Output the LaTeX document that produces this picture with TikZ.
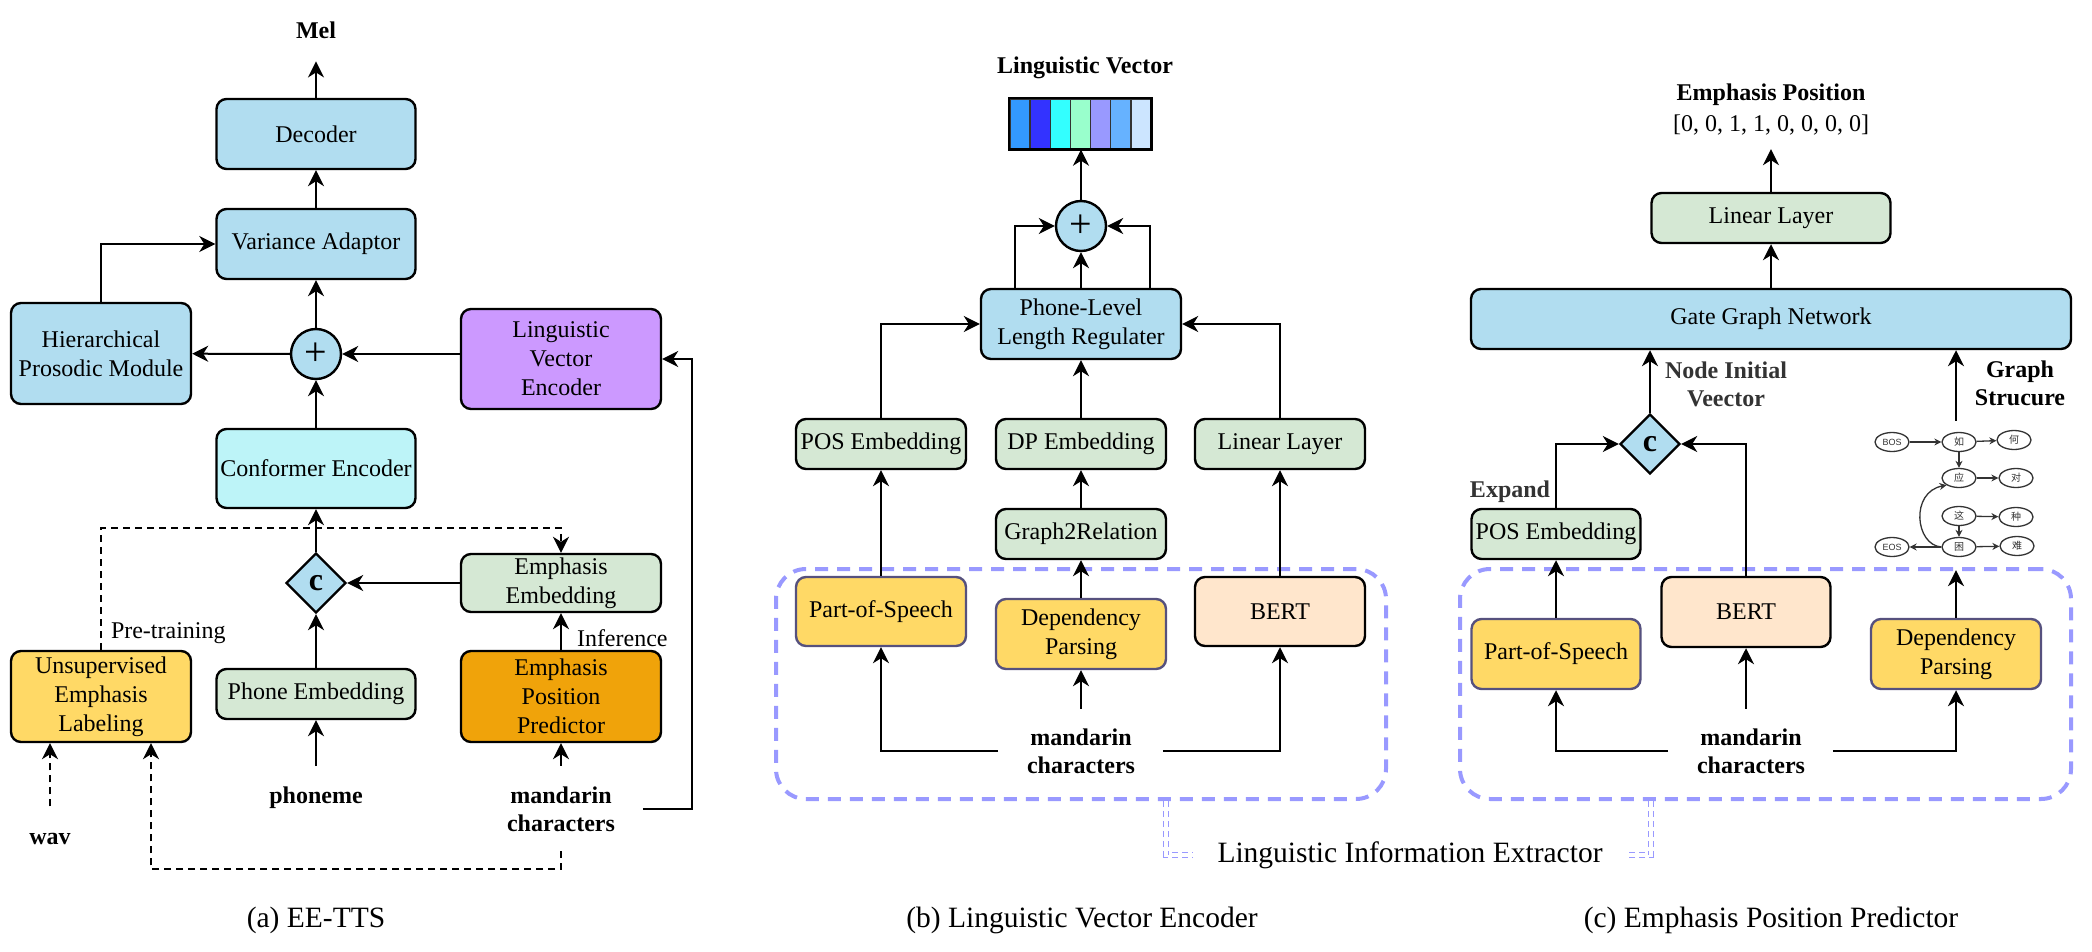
\documentclass[tikz,border=0pt]{standalone}
\usepackage{fontspec}
\setmainfont{Liberation Serif}
\newfontfamily\cjkfont{Noto Sans CJK SC}
\newfontfamily\graphsans{Liberation Sans}
\usetikzlibrary{arrows.meta,shapes.geometric,calc}

\definecolor{boxblue}{HTML}{B1DDF0}
\definecolor{boxcyan}{HTML}{BDF4F8}
\definecolor{boxpurple}{HTML}{CC99FF}
\definecolor{boxgreen}{HTML}{D5E8D4}
\definecolor{boxyellow}{HTML}{FFD966}
\definecolor{boxorange}{HTML}{F0A30A}
\definecolor{boxpeach}{HTML}{FFE6CC}
\definecolor{liecol}{HTML}{9999FF}
\definecolor{ybord}{HTML}{56517E}
\definecolor{txtgray}{HTML}{333333}
\definecolor{vc1}{HTML}{3399FF}
\definecolor{vc2}{HTML}{3333FF}
\definecolor{vc3}{HTML}{33FFFF}
\definecolor{vc4}{HTML}{99FFCC}
\definecolor{vc5}{HTML}{9999FF}
\definecolor{vc6}{HTML}{66B2FF}
\definecolor{vc7}{HTML}{CCE5FF}

\tikzset{
  block/.style={draw=black, line width=2.4pt, rounded corners=10pt, align=center, inner sep=2pt, font=\fontsize{24}{29}\selectfont},
  blue block/.style={block, fill=boxblue},
  cyan block/.style={block, fill=boxcyan},
  purple block/.style={block, fill=boxpurple},
  green block/.style={block, fill=boxgreen},
  yellow block/.style={block, fill=boxyellow},
  tool block/.style={block, fill=boxyellow, draw=ybord},
  orange block/.style={block, fill=boxorange},
  peach block/.style={block, fill=boxpeach},
  io/.style={align=center, inner sep=2pt, font=\fontsize{24}{28}\selectfont\bfseries},
  plainlbl/.style={inner sep=2pt, font=\fontsize{24}{28}\selectfont},
  subcap/.style={inner sep=2pt, font=\fontsize{29.5}{34}\selectfont},
  sum/.style={circle, draw=black, line width=2.4pt, fill=boxblue, minimum size=50pt, inner sep=0pt, font=\fontsize{40}{40}\selectfont},
  concat/.style={diamond, draw=black, line width=2.4pt, fill=boxblue, minimum width=60pt, minimum height=60pt, inner sep=0pt, font=\fontsize{32}{32}\selectfont\bfseries},
  cell/.style={draw=txtgray, line width=1.4pt, minimum width=20.14pt, minimum height=50pt, inner sep=0pt},
  extractor/.style={draw=liecol, line width=4pt, dash pattern=on 13pt off 9pt, rounded corners=30pt, inner sep=0pt},
  extractor link/.style={draw=liecol, line width=1.2pt, double=white, double distance=3.5pt, dash pattern=on 6pt off 4pt},
  predash/.style={line width=2pt, dash pattern=on 7pt off 5pt},
  gnode/.style={ellipse, draw=txtgray, line width=1.3pt, minimum width=34pt, minimum height=19pt, inner sep=0pt, text=txtgray, font=\fontsize{10}{10}\selectfont\cjkfont},
  gedge/.style={draw=txtgray, line width=1.3pt, -{Stealth[length=7pt,width=7pt]}},
}

\begin{document}
\begin{tikzpicture}[x=1pt, y=-1pt, line width=2pt, >={Stealth[length=16pt,width=16pt,inset=5pt]}]
\useasboundingbox (0,0) rectangle (2092,952);

% (a) EE-TTS
\node[io] (mel) at (316,30) {Mel};
\node[blue block, minimum width=199pt, minimum height=70pt] (dec) at (316,134) {Decoder};
\node[blue block, minimum width=199pt, minimum height=70pt] (var) at (316,244) {Variance Adaptor};
\node[sum] (sumA) at (316,354) {+};
\node[blue block, minimum width=180pt, minimum height=101pt] (hpm) at (101,353.5) {Hierarchical\\Prosodic Module};
\node[purple block, minimum width=200pt, minimum height=100pt] (lve) at (561,359) {Linguistic\\Vector\\Encoder};
\node[cyan block, minimum width=199pt, minimum height=79pt] (conf) at (316,468.5) {Conformer Encoder};
\node[concat] (catA) at (316,583) {c};
\node[green block, minimum width=200pt, minimum height=58pt] (emb) at (561,583) {Emphasis\\Embedding};
\node[green block, minimum width=199pt, minimum height=50pt] (phone) at (316,694) {Phone Embedding};
\node[yellow block, minimum width=180pt, minimum height=91pt] (uel) at (101,696.5) {Unsupervised\\Emphasis\\Labeling};
\node[orange block, minimum width=200pt, minimum height=91pt] (epp) at (561,696.5) {Emphasis\\Position\\Predictor};
\node[plainlbl, anchor=west] (pretr) at (108,633) {Pre-training};
\node[plainlbl, anchor=west] (infer) at (574,638) {Inference};
\node[io] (phon) at (316,798) {phoneme};
\node[io] (mandA) at (561,809) {mandarin\\characters};
\node[io] (wav) at (50,839) {wav};
\node[subcap] (capA) at (316,920) {(a) EE-TTS};

\draw[->, shorten >=20pt] (dec) -- (mel);
\draw[->] (var) -- (dec);
\draw[->] (sumA) -- (var);
\draw[->] (conf) -- (sumA);
\draw[->] (sumA) -- (hpm);
\draw[->] (lve.west |- sumA) -- (sumA);
\draw[->] (hpm.north) |- (var.west);
\draw[->] (catA) -- (conf);
\draw[->] (emb) -- (catA);
\draw[->] (phone) -- (catA);
\draw[->] (epp) -- (emb);
\draw[->, shorten <=18pt] (phon) -- (phone);
\draw[->, shorten <=18pt] (mandA) -- (epp);
\draw[->] ([xshift=25pt]mandA.east) -| ([xshift=30pt]lve.east) -- (lve.east);
\draw[predash, ->] (uel.north) -- ++(0,-122) -| (emb.north); % pre-training
\draw[predash, ->] ([yshift=-17pt]mandA.south) -- ++(0,18) -| ([xshift=50pt]uel.south);
\draw[predash, ->] ([yshift=24pt]wav.north) -- (wav.north |- uel.south);

% (b) Linguistic Vector Encoder
\node[extractor, minimum width=610pt, minimum height=230pt] (lieB) at (1081,684) {};
\node[io] (lvTitle) at (1085,68) {Linguistic Vector};
\foreach \i in {1,...,7}
  \node[cell, fill=vc\i] (v\i) at (999.9+20.14*\i,124) {};
\draw[line width=2.4pt] (v1.north west) rectangle (v7.south east);
\node[sum] (sumB) at (1081,226) {+};
\node[blue block, minimum width=200pt, minimum height=70pt] (pllr) at (1081,324) {Phone-Level\\Length Regulater};
\node[green block, minimum width=170pt, minimum height=50pt] (posB) at (881,444) {POS Embedding};
\node[green block, minimum width=170pt, minimum height=50pt] (dpB) at (1081,444) {DP Embedding};
\node[green block, minimum width=170pt, minimum height=50pt] (linB) at (1280,444) {Linear Layer};
\node[green block, minimum width=170pt, minimum height=50pt] (g2r) at (1081,534) {Graph2Relation};
\node[tool block, minimum width=170pt, minimum height=69pt] (posTagB) at (881,611.5) {Part-of-Speech};
\node[tool block, minimum width=170pt, minimum height=70pt] (depB) at (1081,634) {Dependency\\Parsing};
\node[peach block, minimum width=170pt, minimum height=69pt] (bertB) at (1280,611.5) {BERT};
\node[io] (mandB) at (1081,751) {mandarin\\characters};
\node[subcap] (capB) at (1082,920) {(b) Linguistic Vector Encoder};

\draw[->] (sumB) -- (sumB |- v4.south);
\draw[->] (pllr) -- (sumB);
\draw[->] ([xshift=-66pt]pllr.north) |- (sumB.west);
\draw[->] ([xshift=69pt]pllr.north) |- (sumB.east);
\draw[->] (posB.north) |- (pllr.west);
\draw[->] (linB.north) |- (pllr.east);
\draw[->] (dpB) -- (pllr);
\draw[->] (g2r) -- (dpB);
\draw[->] (depB) -- (g2r);
\draw[->] (posTagB) -- (posB);
\draw[->] (bertB) -- (linB);
\draw[->, shorten <=17pt] (mandB) -- (depB);
\draw[->] ([xshift=-26pt]mandB.west) -| (posTagB.south);
\draw[->] ([xshift=25pt]mandB.east) -| (bertB.south);

% (c) Emphasis Position Predictor
\node[extractor, minimum width=611pt, minimum height=230pt] (lieC) at (1765.5,684) {};
\node[io] (epTitle) at (1771,95) {Emphasis Position};
\node[plainlbl] (epVal) at (1771,125) {[0, 0, 1, 1, 0, 0, 0, 0]};
\node[green block, minimum width=239pt, minimum height=50pt] (linC) at (1771,218) {Linear Layer};
\node[blue block, minimum width=600pt, minimum height=60pt] (ggn) at (1771,319) {Gate Graph Network};
\node[concat] (catC) at (1650,444) {c};
\node[io, text=txtgray, anchor=west] (nodeLbl) at (1662,384.5) {Node Initial\\Veector};
\node[io] (graphLbl) at (2020,383) {Graph\\Strucure};
\node[io, text=txtgray] (expand) at (1510,492) {Expand};
\node[green block, minimum width=169pt, minimum height=50pt] (posC) at (1556,534) {POS Embedding};
\node[tool block, minimum width=169pt, minimum height=70pt] (posTagC) at (1556,654) {Part-of-Speech};
\node[peach block, minimum width=169pt, minimum height=70pt] (bertC) at (1746,612) {BERT};
\node[tool block, minimum width=170pt, minimum height=70pt] (depC) at (1956,654) {Dependency\\Parsing};
\node[io] (mandC) at (1751,751) {mandarin\\characters};
\node[subcap] (capC) at (1771,920) {(c) Emphasis Position Predictor};

% graph structure
\node[gnode, font=\fontsize{9}{9}\selectfont\graphsans] (gBOS) at (1892,442) {BOS};
\node[gnode] (gRu) at (1959,442) {如};
\node[gnode] (gHe) at (2014,440) {何};
\node[gnode] (gYing) at (1959,478) {应};
\node[gnode] (gDui) at (2016,478) {对};
\node[gnode] (gZhe) at (1959,516) {这};
\node[gnode] (gZhong) at (2016,517) {种};
\node[gnode, font=\fontsize{9}{9}\selectfont\graphsans] (gEOS) at (1892,547) {EOS};
\node[gnode] (gKun) at (1959,547) {困};
\node[gnode] (gNan) at (2017,546) {难};
\draw[gedge] (gBOS) -- (gRu);
\draw[gedge] (gRu) -- (gHe);
\draw[gedge] (gRu) -- (gYing);
\draw[gedge] (gYing) -- (gDui);
\draw[gedge] (gZhe) -- (gZhong);
\draw[gedge] (gZhe) -- (gKun);
\draw[gedge] (gKun) -- (gNan);
\draw[gedge] (gKun) -- (gEOS);
\draw[gedge] (gKun.west) .. controls (1915,545) and (1910,492) .. (gYing.south west);

\draw[->, shorten >=11pt] (linC) -- (epVal);
\draw[->] (ggn) -- (linC);
\draw[->] (catC) -- (catC |- ggn.south);
\draw[->] ([yshift=11pt]gRu.north -| depC.north) -- (depC.north |- ggn.south);
\draw[->] (posC.north) |- (catC.west);
\draw[->] (bertC.north) |- (catC.east);
\draw[->] (posTagC) -- (posC);
\draw[->] ([yshift=17pt]mandC.north -| bertC.south) -- (bertC.south);
\draw[->] ([xshift=-26pt]mandC.west) -| (posTagC.south);
\draw[->] ([xshift=25pt]mandC.east) -| (depC.south);
\draw[->, shorten >=13pt] (depC.north) -- (depC.north |- gKun.south);

% extractor label
\node[subcap] (lieLbl) at (1410,855) {Linguistic Information Extractor};
\draw[extractor link, shorten >=22pt] ([xshift=85pt]lieB.south) |- (lieLbl.west);
\draw[extractor link, shorten >=22pt] ([xshift=-114.5pt]lieC.south) |- (lieLbl.east);

\end{tikzpicture}
\end{document}
